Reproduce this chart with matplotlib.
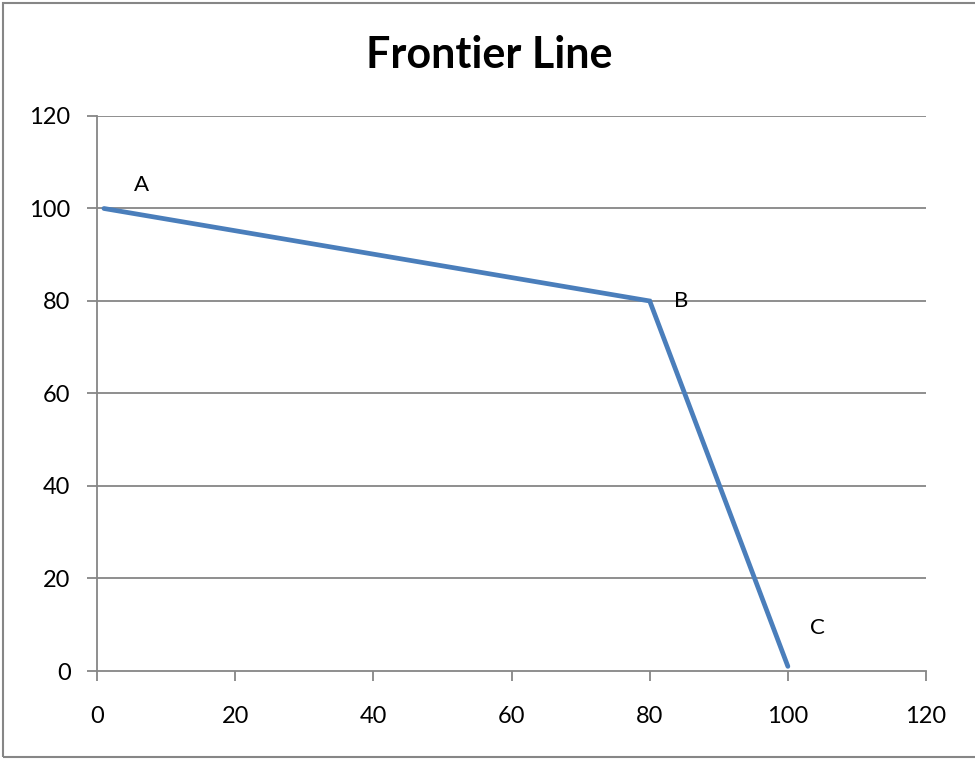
import matplotlib.pyplot as plt
from matplotlib.patches import Rectangle

plt.rcParams['font.family'] = ['Lato', 'DejaVu Sans']

# frontier points
x_vals = [1, 80, 100]
y_vals = [100, 80, 1]
point_names = ['A', 'B', 'C']
name_x = [6.4, 84.5, 104.3]
name_y = [105, 80, 9.3]

x_ticks = [0, 20, 40, 60, 80, 100, 120]
y_ticks = [0, 20, 40, 60, 80, 100, 120]

fig = plt.figure(figsize=(9.75, 7.6), dpi=100)
ax = fig.add_axes([0.0995, 0.1171, 0.8503, 0.7303])

grey = '#868686'
for yt in y_ticks[1:]:
    ax.axhline(yt, color=grey, lw=1.3, zorder=1)

ax.plot(x_vals, y_vals, color='#4A7EBB', lw=3.4, solid_capstyle='round',
        solid_joinstyle='miter', zorder=3)

for nm, tx, ty in zip(point_names, name_x, name_y):
    ax.text(tx, ty, nm, fontsize=16, ha='center', va='center')

ax.set_xlim(0, 120)
ax.set_ylim(0, 120)
ax.set_xticks(x_ticks)
ax.set_yticks(y_ticks)
ax.tick_params(axis='both', direction='out', length=7, width=1.3, color=grey,
               labelsize=17)
ax.tick_params(axis='x', pad=18)
ax.tick_params(axis='y', pad=12)
for side in ['top', 'right']:
    ax.spines[side].set_visible(False)
for side in ['left', 'bottom']:
    ax.spines[side].set_color(grey)
    ax.spines[side].set_linewidth(1.3)

fig.text(0.502, 0.927, 'Frontier Line', fontsize=31, fontweight='bold',
         ha='center', va='center')

# chart border
fig.patches.append(Rectangle((3 / 975, 3 / 760), 1.2, 1 - 6 / 760,
                             transform=fig.transFigure, fill=False,
                             edgecolor=grey, lw=1.5))

fig.savefig('out.png', dpi=100)
